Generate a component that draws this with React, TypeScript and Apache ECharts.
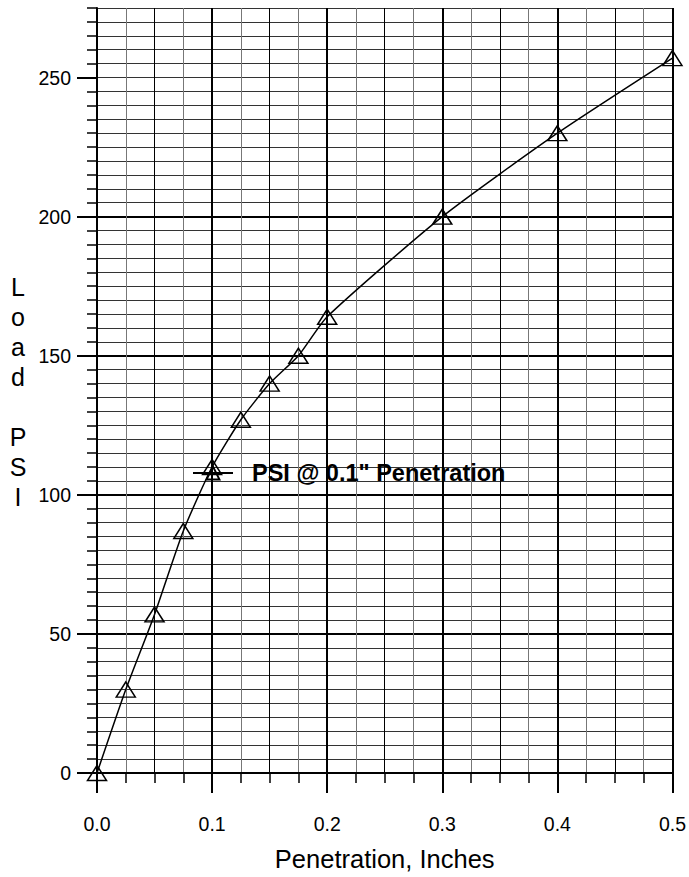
import React, { useEffect, useRef } from "react";
import * as echarts from "echarts";

const penetration = [0, 0.025, 0.05, 0.075, 0.1, 0.125, 0.15, 0.175, 0.2, 0.3, 0.4, 0.5];
const loadPsi = [0, 30, 57, 87, 110, 127, 140, 150, 164, 200, 230, 257];
const yMajorTicks = [0, 50, 100, 150, 200, 250];
const seriesName = 'PSI @ 0.1" Penetration';
const xTitle = "Penetration, Inches";
const yTitle = "L\no\na\nd\n\nP\nS\nI";

const FONT = "'Liberation Sans', Arial, sans-serif";

export default function App() {
  const ref = useRef<HTMLDivElement>(null);
  useEffect(() => {
    if (!ref.current) return;
    const chart = echarts.init(ref.current, null, { renderer: "svg" });
    const grid = { left: 97, right: 14, top: 8, bottom: 100 };
    chart.setOption({
      animation: false,
      backgroundColor: "#fff",
      grid,
      legend: {
        left: 192,
        top: 461,
        padding: 0,
        itemWidth: 40,
        itemHeight: 16,
        data: [seriesName],
        textStyle: {
          fontFamily: FONT,
          fontWeight: "bold",
          fontSize: 23.5,
          color: "#000",
          padding: [0, 0, 0, 14],
        },
      },
      xAxis: [
        {
          type: "value",
          min: 0,
          max: 0.5,
          interval: 0.025,
          position: "bottom",
          axisLine: { show: false },
          axisTick: { show: true, length: 10, lineStyle: { color: "#000", width: 1.5 } },
          axisLabel: { show: false },
          splitLine: { show: true, lineStyle: { color: "#777", width: 1 } },
        },
        {
          type: "value",
          min: 0,
          max: 0.5,
          interval: 0.05,
          position: "bottom",
          axisLine: { show: false },
          axisTick: { show: false },
          axisLabel: { show: false },
          splitLine: { show: true, lineStyle: { color: "#000", width: 1 } },
        },
        {
          type: "value",
          min: 0,
          max: 0.5,
          interval: 0.1,
          position: "bottom",
          name: xTitle,
          nameLocation: "middle",
          nameGap: 73,
          nameTextStyle: { fontFamily: FONT, fontSize: 25.5, color: "#000" },
          axisLine: { show: true, lineStyle: { color: "#000", width: 2 } },
          axisTick: { show: true, length: 20, lineStyle: { color: "#000", width: 2 } },
          axisLabel: {
            show: true,
            margin: 41,
            fontFamily: FONT,
            fontSize: 19.5,
            color: "#000",
            formatter: (v: number) => v.toFixed(1),
          },
          splitLine: { show: true, lineStyle: { color: "#000", width: 2 } },
        },
      ],
      yAxis: [
        {
          type: "value",
          min: 0,
          max: 275,
          interval: 5,
          axisLine: { show: false },
          axisTick: { show: true, length: 10, lineStyle: { color: "#000", width: 1.5 } },
          axisLabel: { show: false },
          splitLine: { show: true, lineStyle: { color: "#333", width: 1 } },
        },
        {
          type: "value",
          min: 0,
          max: 275,
          interval: 50,
          position: "left",
          axisLine: { show: true, onZero: false, lineStyle: { color: "#000", width: 2 } },
          axisTick: {
            show: true,
            length: 20,
            customValues: yMajorTicks,
            lineStyle: { color: "#000", width: 2 },
          },
          axisLabel: {
            show: true,
            margin: 26,
            fontFamily: FONT,
            fontSize: 19.5,
            color: "#000",
            customValues: yMajorTicks,
            formatter: (v: number) => (yMajorTicks.includes(v) ? String(v) : ""),
          },
          splitLine: { show: true, showMaxLine: false, lineStyle: { color: "#000", width: 2 } },
        },
      ],
      graphic: [
        {
          type: "text",
          x: 18,
          y: 272,
          style: {
            text: yTitle,
            font: `25px ${FONT}`,
            lineHeight: 30,
            fill: "#000",
            align: "center",
            verticalAlign: "top",
          },
        },
      ],
      series: [
        {
          name: seriesName,
          type: "line",
          xAxisIndex: 2,
          yAxisIndex: 1,
          data: penetration.map((x, i) => [x, loadPsi[i]]),
          smooth: 0.2,
          symbol: "triangle",
          symbolSize: [19, 15],
          showAllSymbol: true,
          lineStyle: { color: "#000", width: 1.5 },
          itemStyle: { color: "rgba(255,255,255,0)", borderColor: "#000", borderWidth: 1.5 },
          z: 10,
        },
      ],
    });
    return () => chart.dispose();
  }, []);
  return <div ref={ref} style={{ width: 689, height: 877, position: "absolute", left: 0, top: 0 }} />;
}
